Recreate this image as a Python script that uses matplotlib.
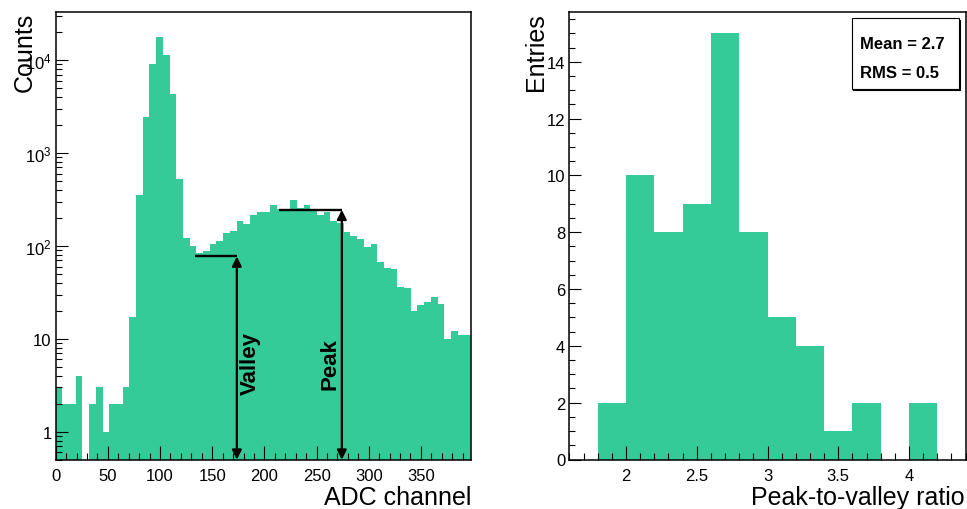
import matplotlib
matplotlib.use('Agg')
import matplotlib.pyplot as plt
import numpy as np
from matplotlib.ticker import MultipleLocator, FixedLocator, FixedFormatter, LogLocator, NullFormatter, FormatStrFormatter
from matplotlib.patches import Rectangle

# ---- data ----
# ADC spectrum, 62 bins over 0..398
adc_range = (0, 398)
adc_counts = [3, 2, 2, 4, 0, 2, 3, 1, 2, 2, 3, 17,
              357, 2465, 9030, 17800, 11380, 4360, 528, 122, 101, 85,
              88, 104, 112, 138, 144, 184, 171, 216, 233, 233,
              274, 252, 252, 310, 255, 279, 239, 214, 230, 184,
              178, 140, 128, 120, 97, 104, 67, 58, 57, 36,
              35, 20, 23, 25, 28, 24, 10, 12, 11, 11]
adc_ticks = [0, 50, 100, 150, 200, 250, 300, 350]
log_ticks = [1, 10, 100, 1000, 10000]
log_labels = ['1', '10', '$10^{2}$', '$10^{3}$', '$10^{4}$']

# valley / peak markers (ADC channel, counts, start of the horizontal line)
valley_x, valley_y, valley_from = 173.6, 77, 133.7
peak_x, peak_y, peak_from = 274.2, 245, 213.9

# peak-to-valley ratio histogram, bins of 0.2 from 1.8 to 4.2
ratio_range = (1.8, 4.2)
ratio_counts = [2, 10, 8, 9, 15, 8, 5, 4, 1, 2, 0, 2]
ratio_mean = 2.7
ratio_rms = 0.5

fill = '#35CB98'
W, H = 967, 510

plt.rcParams['font.family'] = ['Liberation Sans', 'DejaVu Sans']
plt.rcParams['mathtext.fontset'] = 'custom'
plt.rcParams['mathtext.rm'] = 'Liberation Sans'
plt.rcParams['mathtext.it'] = 'Liberation Sans:italic'
plt.rcParams['mathtext.bf'] = 'Liberation Sans:bold'


def box(x0, y0, x1, y1):
    # pixel box (top-left origin) -> figure fraction rect
    return [x0 / W, 1 - y1 / H, (x1 - x0) / W, (y1 - y0) / H]


def root_style(ax, xmaj_len=10, ymaj_len=8.4):
    for s in ax.spines.values():
        s.set_linewidth(1.1)
    ax.tick_params(which='both', direction='in', top=False, right=False, width=0.8,
                   labelsize=12, colors='black')
    ax.tick_params(axis='x', which='major', length=xmaj_len, pad=6)
    ax.tick_params(axis='x', which='minor', length=4.8)
    ax.tick_params(axis='y', which='major', length=ymaj_len, pad=3)
    ax.tick_params(axis='y', which='minor', length=4.3)


fig = plt.figure(figsize=(W / 100, H / 100), dpi=100)

# ---------------- left: ADC spectrum ----------------
ax1 = fig.add_axes(box(55.7, 13, 471, 460.7))
adc_edges = np.linspace(adc_range[0], adc_range[1], len(adc_counts) + 1)
ax1.set_yscale('log')
ax1.bar(adc_edges[:-1], adc_counts, width=np.diff(adc_edges), align='edge',
        color=fill, linewidth=0)
ax1.set_xlim(*adc_range)
ax1.set_ylim(0.5, 3.3e4)
ax1.xaxis.set_major_locator(FixedLocator(adc_ticks))
ax1.xaxis.set_minor_locator(MultipleLocator(10))
ax1.yaxis.set_major_locator(FixedLocator(log_ticks))
ax1.yaxis.set_major_formatter(FixedFormatter(log_labels))
ax1.yaxis.set_minor_locator(LogLocator(base=10, subs=np.arange(2, 10)))
ax1.yaxis.set_minor_formatter(NullFormatter())
root_style(ax1)

# valley / peak arrows
arrow = dict(arrowstyle='<|-|>', color='black', lw=1.6, shrinkA=0, shrinkB=0,
             mutation_scale=14)
for x, y, x0, name, tx in [(valley_x, valley_y, valley_from, 'Valley', valley_x + 18),
                           (peak_x, peak_y, peak_from, 'Peak', peak_x - 6)]:
    ax1.plot([x0, x], [y, y], color='black', lw=1.7, solid_capstyle='butt')
    ax1.annotate('', xy=(x, 0.5), xytext=(x, y), arrowprops=arrow)
    ax1.text(tx, 5.5, name, rotation=90, rotation_mode='anchor', ha='center',
             va='baseline', fontsize=16, fontweight='bold')

fig.text(471 / W, 1 - 505.5 / H, 'ADC channel', ha='right', va='baseline', fontsize=18)
fig.text(31.7 / W, 1 - 13 / H, 'Counts', rotation=90, rotation_mode='anchor',
         ha='right', va='baseline', fontsize=18)

# ---------------- right: peak-to-valley ratio ----------------
ax2 = fig.add_axes(box(569.4, 13, 965.6, 460.5))
ratio_edges = np.linspace(ratio_range[0], ratio_range[1], len(ratio_counts) + 1)
ax2.bar(ratio_edges[:-1], ratio_counts, width=np.diff(ratio_edges), align='edge',
        color=fill, linewidth=0)
ax2.set_xlim(1.6, 4.4)
ax2.set_ylim(0, 15.75)
ax2.xaxis.set_major_locator(MultipleLocator(0.5))
ax2.xaxis.set_minor_locator(MultipleLocator(0.1))
ax2.xaxis.set_major_formatter(FormatStrFormatter('%g'))
ax2.yaxis.set_major_locator(MultipleLocator(2))
ax2.yaxis.set_minor_locator(MultipleLocator(0.5))
root_style(ax2)

fig.text(964.3 / W, 1 - 505.5 / H, 'Peak-to-valley ratio', ha='right', va='baseline',
         fontsize=18)
fig.text(543.3 / W, 1 - 13.3 / H, 'Entries', rotation=90, rotation_mode='anchor',
         ha='right', va='baseline', fontsize=18)

# stats box with a thin shadow, like ROOT
bx = box(851.7, 19.3, 959.3, 90)
fig.patches.append(Rectangle((bx[0] + 1.2 / W, bx[1] - 1.2 / H), bx[2], bx[3],
                             transform=fig.transFigure, facecolor='black',
                             edgecolor='black', lw=0.8, zorder=5))
fig.patches.append(Rectangle((bx[0], bx[1]), bx[2], bx[3], transform=fig.transFigure,
                             facecolor='white', edgecolor='black', lw=0.8, zorder=6))
fig.text(860 / W, 1 - 49.3 / H, 'Mean = %.1f' % ratio_mean, ha='left', va='baseline',
         fontsize=12, fontweight='bold', zorder=7)
fig.text(860 / W, 1 - 78.3 / H, 'RMS = %.1f' % ratio_rms, ha='left', va='baseline',
         fontsize=12, fontweight='bold', zorder=7)

fig.savefig('out.png', dpi=100)
